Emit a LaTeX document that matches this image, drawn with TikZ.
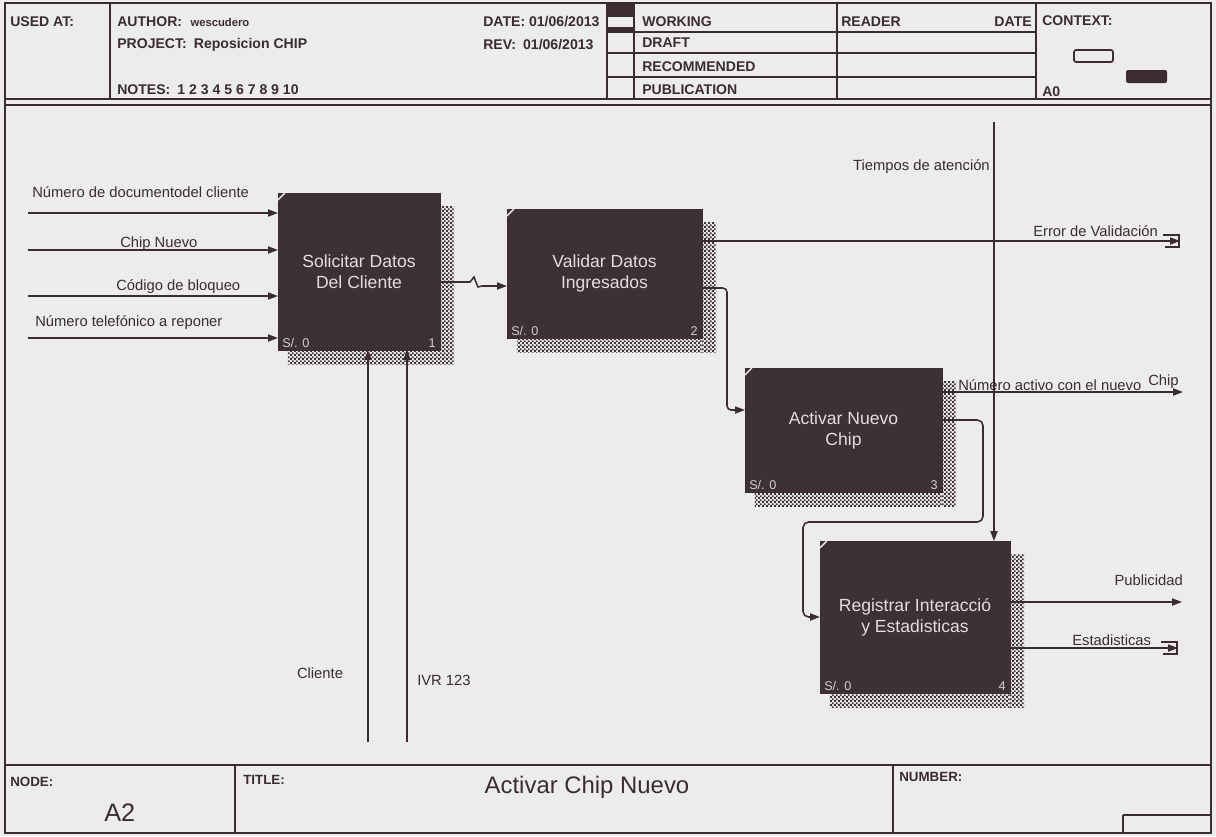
\documentclass[tikz,border=0pt]{standalone}
\usepackage{fontspec}
\setmainfont{Liberation Sans}
\usepackage{xcolor}
\usepackage{tikz}
\usetikzlibrary{arrows.meta,calc,positioning,patterns}

\definecolor{idefline}{HTML}{3A2C32}
\definecolor{boxfill}{HTML}{3E3136}
\definecolor{boxtext}{HTML}{E2DEE0}
\definecolor{paper}{HTML}{ECECEC}
\definecolor{shadowc}{HTML}{3F3338}

% fine checker for the box shadows
\pgfdeclarepatternformonly{finecheck}{\pgfqpoint{0pt}{0pt}}{\pgfqpoint{3pt}{3pt}}{\pgfqpoint{3pt}{3pt}}{%
  \pgfpathrectangle{\pgfqpoint{0pt}{0pt}}{\pgfqpoint{1.5pt}{1.5pt}}%
  \pgfpathrectangle{\pgfqpoint{1.5pt}{1.5pt}}{\pgfqpoint{1.5pt}{1.5pt}}%
  \pgfusepath{fill}}

\tikzset{
  act/.style={draw=idefline, fill=boxfill, text=boxtext, inner sep=0pt, outer sep=0pt,
    align=center, font=\fontsize{12.5}{15}\selectfont},
  flow/.style={draw=idefline, line width=1.1pt, -{Triangle[length=7pt,width=5pt]}},
  pipe/.style={draw=idefline, line width=0.9pt},
  lbl/.style={font=\fontsize{10.5}{12}\selectfont, text=idefline, inner sep=0pt},
  hdr/.style={font=\fontsize{10}{12}\selectfont\bfseries, text=idefline, inner sep=0pt, anchor=west},
  frame/.style={draw=idefline, line width=1.4pt},
  corner/.style={font=\fontsize{9}{10}\selectfont, text=boxtext!85!gray, inner sep=0pt},
}

\begin{document}
\begin{tikzpicture}[x=0.025cm, y=-0.025cm]
  \useasboundingbox (0,0) rectangle (1216,836);
  \fill[paper] (0,0) rectangle (1216,836);

  % form frame
  \draw[frame] (5,3) -- (1211,3) -- (1211,833) -- (5,833) -- cycle;
  \draw[frame] (5,99) -- (1211,99);
  \draw[frame, line width=1pt] (5,105) -- (1211,105);
  \draw[frame] (5,765) -- (1211,765);
  \foreach \x in {110,607,634,837,1036} \draw[frame] (\x,3) -- (\x,99);
  \draw[frame, line width=1.2pt] (634,32) -- (1036,32);
  \foreach \y in {53,77} \draw[frame, line width=1pt] (607,\y) -- (1036,\y);
  \fill[idefline] (607,3) rectangle (634,17);
  \fill[idefline] (607,27) rectangle (634,33);
  \draw[frame, line width=1.2pt, rounded corners=1.5pt] (1074,50) rectangle (1113,62);
  \fill[idefline, rounded corners=1.5pt] (1126,70) rectangle (1167,83);
  \foreach \x in {235,893} \draw[frame] (\x,765) -- (\x,833);
  \draw[frame] (1123,815) -- (1211,815);
  \draw[frame, line width=1pt] (1123,815) -- (1123,833);

  % header texts
  \node[hdr] (usedat) at (10,22) {USED AT:};
  \node[hdr] (author) at (117,22) {AUTHOR:\hspace{6pt}{\fontsize{8}{9}\selectfont wescudero}};
  \node[hdr] (project) at (117,45) {PROJECT:\hspace{5pt}Reposicion CHIP};
  \node[hdr] (notes) at (117,90) {NOTES:\hspace{5pt}1 2 3 4 5 6 7 8 9 10};
  \node[hdr] (date) at (483,22) {DATE: 01/06/2013};
  \node[hdr] (rev) at (483,45) {REV:\hspace{5pt}01/06/2013};
  \node[hdr] (working) at (642,22) {WORKING};
  \node[hdr] (draft) at (642,43) {DRAFT};
  \node[hdr] (recom) at (642,67) {RECOMMENDED};
  \node[hdr] (publ) at (642,90) {PUBLICATION};
  \node[hdr] (reader) at (841,22) {READER};
  \node[hdr, anchor=east] (rdate) at (1032,22) {DATE};
  \node[hdr] (context) at (1042,21) {CONTEXT:};
  \node[hdr] (ctxnode) at (1042,92) {A0};

  % activity boxes
  \node[act, minimum width=4.05cm, minimum height=3.925cm] (solicitar) at (359,271.5) {Solicitar Datos\\Del Cliente};
  \node[act, minimum width=4.875cm, minimum height=3.225cm] (validar) at (604.5,273.5) {Validar Datos\\Ingresados};
  \node[act, minimum width=4.925cm, minimum height=3.1cm] (activar) at (843.5,430) {Activar Nuevo\\Chip};
  \node[act, minimum width=4.75cm, minimum height=3.8cm] (registrar) at (915,617) {Registrar Interacció\\y Estadisticas};

  \foreach \b/\n in {solicitar/1,validar/2,activar/3,registrar/4} {
    \fill[pattern=finecheck, pattern color=shadowc] ($(\b.north east)+(0,14)$) rectangle ($(\b.south east)+(14,14)$);
    \fill[pattern=finecheck, pattern color=shadowc] ($(\b.south west)+(10,0)$) rectangle ($(\b.south east)+(0,14)$);
    \draw[paper, line width=1pt] ($(\b.north west)+(0,7)$) -- ($(\b.north west)+(7,0)$);
    \node[corner, anchor=south west] at ($(\b.south west)+(4,-2)$) {S/. 0};
    \node[corner, anchor=south east] at ($(\b.south east)+(-4,-2)$) {\n};
  }

  % inputs
  \foreach \y/\ly/\lx/\t [count=\i] in {213/197/32/{Número de documentodel cliente},
      250/247/120/{Chip Nuevo}, 296/290/116/{Código de bloqueo},
      338/326/35/{Número telefónico a reponer}} {
    \coordinate (in\i) at (28,\y);
    \draw[flow] (in\i) -- (in\i -| solicitar.west);
    \node[lbl, anchor=base west] (inlbl\i) at (\lx,\ly) {\t};
  }

  % mechanisms
  \foreach \x [count=\i] in {368,407} {
    \coordinate (mech\i) at (\x,742);
    \draw[flow] (mech\i) -- (mech\i |- solicitar.south);
  }
  \node[lbl] (cliente) at (320,673) {Cliente};
  \node[lbl, anchor=west] (ivr) at (417,680) {IVR 123};

  % 1 -> 2
  \draw[flow] (solicitar.east |- 0,282) -- (470,282) -- (474,277) -- (478,287) -- (482,286) -- (validar.west |- 0,286);

  % outputs of 2
  \coordinate (errEnd) at (1180,241);
  \draw[flow] (validar.east |- errEnd) -- (errEnd);
  \draw[pipe] ($(errEnd)+(-17,-6)$) -- ++(16,0) -- ++(0,12) -- ++(-14,0);
  \node[lbl, anchor=base west] (errlbl) at (1033,236) {Error de Validación};
  \coordinate (turnA) at (727,410);
  \draw[flow, rounded corners=3pt] (validar.east |- 0,288) -| (turnA) -- (activar.west |- turnA);

  % control
  \coordinate (ctlTop) at (994,122);
  \draw[flow] (ctlTop) -- (ctlTop |- registrar.north);
  \node[lbl, anchor=east] (tiempos) at (990,167) {Tiempos de atención};

  % outputs of 3
  \coordinate (numEnd) at (1183,392);
  \draw[flow] (activar.east |- numEnd) -- (numEnd);
  \node[lbl, anchor=base west] (numlbl) at (958,390) {Número activo con el nuevo};
  \node[lbl, anchor=base west] (chiplbl) at (1148,385) {Chip};
  \coordinate (loopR) at (983,522);
  \coordinate (loopL) at (803,617);
  \draw[flow, rounded corners=4pt] ($(activar.east)+(0,-10)$) -| (loopR) -| (loopL) -- (registrar.west);

  % outputs of 4
  \coordinate (pubEnd) at (1182,602);
  \draw[flow] (registrar.east |- pubEnd) -- (pubEnd);
  \node[lbl, anchor=base east] (publbl) at (1183,585) {Publicidad};
  \coordinate (estEnd) at (1178,648);
  \draw[flow] (registrar.east |- estEnd) -- (estEnd);
  \draw[pipe] ($(estEnd)+(-17,-6)$) -- ++(16,0) -- ++(0,12) -- ++(-14,0);
  \node[lbl, anchor=base west] (estlbl) at (1072,645) {Estadisticas};

  % footer
  \node[hdr, font=\fontsize{9.5}{11}\selectfont\bfseries] (nodelbl) at (10,782) {NODE:};
  \node[font=\fontsize{18}{20}\selectfont, text=idefline, anchor=west, inner sep=0pt] (nodeid) at (104,813) {A2};
  \node[hdr, font=\fontsize{9.5}{11}\selectfont\bfseries] (titlelbl) at (243,780) {TITLE:};
  \node[font=\fontsize{17}{20}\selectfont, text=idefline, inner sep=0pt] (title) at (587,787) {Activar Chip Nuevo};
  \node[hdr, font=\fontsize{9.5}{11}\selectfont\bfseries] (numberlbl) at (899,777) {NUMBER:};
\end{tikzpicture}
\end{document}
